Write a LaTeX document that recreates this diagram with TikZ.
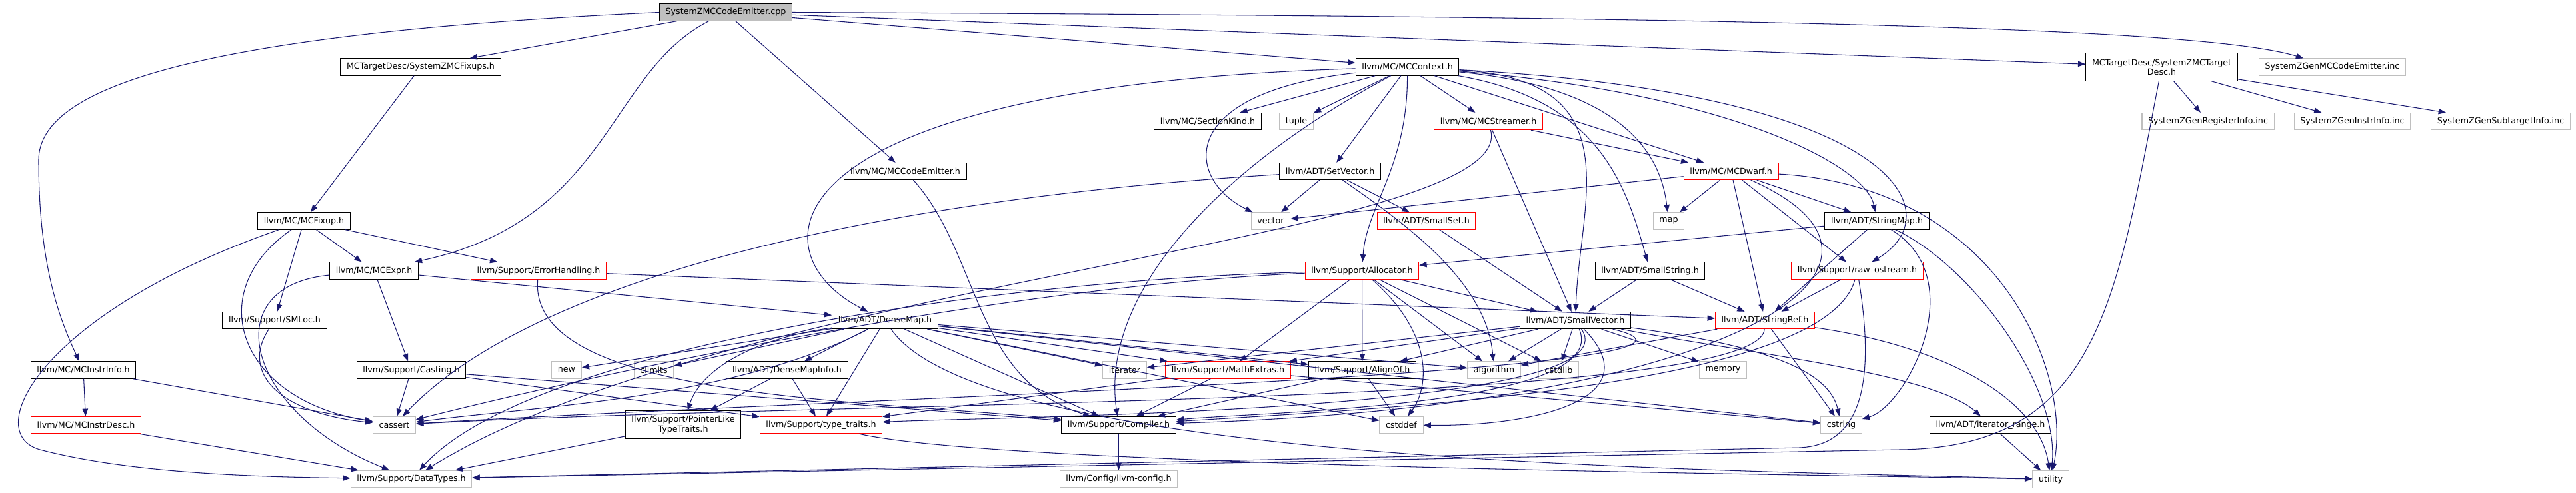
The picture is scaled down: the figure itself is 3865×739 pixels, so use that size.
\documentclass[tikz,border=0pt]{standalone}
\usepackage{fontspec}
\usetikzlibrary{arrows.meta}
\newfontfamily\dejavu{DejaVu Sans}
\definecolor{edgeblue}{HTML}{191970}
\definecolor{sysgray}{HTML}{BFBFBF}
\definecolor{cutred}{HTML}{FF0000}

\begin{document}
\begin{tikzpicture}[x=0.025cm,y=-0.025cm,
    box/.style={rectangle,inner xsep=6.5pt,inner ysep=0pt,minimum height=0.63cm,align=center,font=\dejavu\fontsize{9}{10}\selectfont,line width=0.8pt},
    hdr/.style={box,draw=black},
    cut/.style={box,draw=cutred},
    sys/.style={box,draw=sysgray},
    dep/.style={draw=edgeblue,line width=0.75pt,-{Triangle[length=8pt,width=6pt]}}]
    \useasboundingbox (0,0) rectangle (3865,739);
    % row 0 and 1
    \node[hdr,fill=sysgray] (cpp) at (1089,18.5) {SystemZMCCodeEmitter.cpp};
    \node[hdr] (fixups) at (631,100.5) {MCTargetDesc/SystemZMCFixups.h};
    \node[hdr] (mccontext) at (2111.5,100.5) {llvm/MC/MCContext.h};
    \node[hdr,minimum height=1.03cm] (targetdesc) at (3243.5,100.5) {MCTargetDesc/SystemZMCTarget\\Desc.h};
    \node[sys] (geninc) at (3499.5,100.5) {SystemZGenMCCodeEmitter.inc};
    \node[hdr] (sectionkind) at (1812,182) {llvm/MC/SectionKind.h};
    \node[sys] (tuple) at (1945,182) {tuple};
    \node[cut] (mcstreamer) at (2233,182) {llvm/MC/MCStreamer.h};
    \node[sys] (reginfo) at (3313,182) {SystemZGenRegisterInfo.inc};
    \node[sys] (instrinc) at (3529.5,182) {SystemZGenInstrInfo.inc};
    \node[sys] (subtarget) at (3752,182) {SystemZGenSubtargetInfo.inc};
    % middle rows
    \node[hdr] (codeemitter) at (1358.5,257) {llvm/MC/MCCodeEmitter.h};
    \node[hdr] (setvector) at (1995.5,257) {llvm/ADT/SetVector.h};
    \node[cut] (mcdwarf) at (2597,257) {llvm/MC/MCDwarf.h};
    \node[hdr] (mcfixup) at (456,331.5) {llvm/MC/MCFixup.h};
    \node[sys] (vector) at (1906.5,331.5) {vector};
    \node[cut] (smallset) at (2140,331.5) {llvm/ADT/SmallSet.h};
    \node[sys] (map) at (2503.5,331.5) {map};
    \node[hdr] (stringmap) at (2816,331.5) {llvm/ADT/StringMap.h};
    \node[hdr] (mcexpr) at (561,406.5) {llvm/MC/MCExpr.h};
    \node[cut] (errhandling) at (808,406.5) {llvm/Support/ErrorHandling.h};
    \node[cut] (allocator) at (2043.5,406.5) {llvm/Support/Allocator.h};
    \node[hdr] (smallstring) at (2475.5,406.5) {llvm/ADT/SmallString.h};
    \node[cut] (rawostream) at (2786.5,406.5) {llvm/Support/raw\_ostream.h};
    \node[hdr] (smloc) at (412,481) {llvm/Support/SMLoc.h};
    \node[hdr] (densemap) at (1328,481) {llvm/ADT/DenseMap.h};
    \node[hdr] (smallvector) at (2363.5,481) {llvm/ADT/SmallVector.h};
    \node[cut] (stringref) at (2648,481) {llvm/ADT/StringRef.h};
    \node[hdr] (instrinfo) at (125,555.5) {llvm/MC/MCInstrInfo.h};
    \node[hdr] (casting) at (617,555.5) {llvm/Support/Casting.h};
    \node[sys] (new) at (850,555.5) {new};
    \node[sys] (climits) at (981,555.5) {climits};
    \node[hdr] (densemapinfo) at (1181,555.5) {llvm/ADT/DenseMapInfo.h};
    \node[sys] (iterator) at (1687.5,555.5) {iterator};
    \node[cut] (mathextras) at (1842.5,555.5) {llvm/Support/MathExtras.h};
    \node[hdr] (alignof) at (2044,555.5) {llvm/Support/AlignOf.h};
    \node[sys] (algorithm) at (2241.5,555.5) {algorithm};
    \node[sys] (cstdlib) at (2338.5,555.5) {cstdlib};
    \node[sys] (memory) at (2585,555.5) {memory};
    % bottom rows
    \node[cut] (instrdesc) at (129,638) {llvm/MC/MCInstrDesc.h};
    \node[sys] (cassert) at (591.5,638) {cassert};
    \node[hdr,minimum height=1.03cm] (pointerlike) at (1025,637.5) {llvm/Support/PointerLike\\TypeTraits.h};
    \node[cut] (typetraits) at (1232,638) {llvm/Support/type\_traits.h};
    \node[hdr] (compiler) at (1678.5,638) {llvm/Support/Compiler.h};
    \node[sys] (cstddef) at (2102.5,638) {cstddef};
    \node[sys] (cstring) at (2762.5,638) {cstring};
    \node[hdr] (iterrange) at (2986.5,638) {llvm/ADT/iterator\_range.h};
    \node[sys] (datatypes) at (617,719) {llvm/Support/DataTypes.h};
    \node[sys] (llvmconfig) at (1678.5,719) {llvm/Config/llvm-config.h};
    \node[sys] (utility) at (3077,719.5) {utility};
    % straight includes
    \foreach \a/\b in {cpp/fixups,cpp/codeemitter,cpp/mccontext,cpp/targetdesc,fixups/mcfixup,
        mcfixup/mcexpr,mcfixup/errhandling,mcfixup/smloc,targetdesc/reginfo,targetdesc/instrinc,targetdesc/subtarget,
        mccontext/sectionkind,mccontext/tuple,mccontext/setvector,mccontext/mcstreamer,mccontext/mcdwarf,
        mcstreamer/mcdwarf,mcstreamer/smallvector,mcdwarf/vector,mcdwarf/map,mcdwarf/stringmap,mcdwarf/stringref,mcdwarf/rawostream,
        setvector/vector,setvector/smallset,smallset/smallvector,stringmap/allocator,stringmap/stringref,
        smallstring/smallvector,smallstring/stringref,rawostream/stringref,
        allocator/smallvector,allocator/alignof,allocator/mathextras,allocator/algorithm,allocator/cstdlib,
        smallvector/alignof,smallvector/mathextras,smallvector/algorithm,smallvector/cstdlib,smallvector/memory,smallvector/iterator,
        stringref/algorithm,stringref/cstring,mcexpr/casting,mcexpr/densemap,
        casting/cassert,casting/typetraits,casting/compiler,errhandling/stringref,
        instrinfo/instrdesc,instrinfo/cassert,instrdesc/datatypes,
        densemap/densemapinfo,densemap/alignof,densemap/compiler,densemap/mathextras,densemap/typetraits,
        densemap/algorithm,densemap/climits,densemap/cstddef,densemap/cstring,densemap/iterator,densemap/new,
        densemapinfo/pointerlike,densemapinfo/typetraits,pointerlike/datatypes,
        mathextras/compiler,mathextras/typetraits,mathextras/cstring,alignof/compiler,alignof/cstddef,
        compiler/llvmconfig,iterrange/utility}{\draw[dep] (\a) -- (\b);}
    % routed includes
    \draw[dep] (cpp.west) .. controls (300,50) and (58,130) .. (58,240) .. controls (58,400) and (90,480) .. (instrinfo);
    \draw[dep] (cpp) .. controls (911,110) and (915,330) .. (mcexpr);
    \draw[dep] (cpp.east) .. controls (2600,25) and (3300,40) .. (geninc);
    \draw[dep] (mcfixup) .. controls (60,470) and (-30,650) .. (60,675) .. controls (200,712) and (400,716) .. (datatypes);
    \draw[dep] (mcfixup) .. controls (300,440) and (360,600) .. (cassert);
    \draw[dep] (mcexpr) .. controls (320,430) and (370,620) .. (datatypes);
    \draw[dep] (smloc) .. controls (360,560) and (420,620) .. (cassert);
    \draw[dep] (codeemitter) .. controls (1470,380) and (1460,570) .. (compiler);
    \draw[dep] (mccontext) .. controls (1140,130) and (1130,380) .. (densemap);
    \draw[dep] (mccontext) .. controls (1760,140) and (1780,270) .. (vector);
    \draw[dep] (mccontext) .. controls (1830,250) and (1650,440) .. (compiler);
    \draw[dep] (mccontext) .. controls (2112,250) and (2050,310) .. (allocator);
    \draw[dep] (mccontext) .. controls (2450,120) and (2370,300) .. (smallvector);
    \draw[dep] (mccontext) .. controls (2400,150) and (2440,280) .. (smallstring);
    \draw[dep] (mccontext) .. controls (2420,130) and (2490,220) .. (map);
    \draw[dep] (mccontext) .. controls (2600,140) and (2800,250) .. (stringmap);
    \draw[dep] (mccontext) .. controls (2850,140) and (2930,320) .. (rawostream);
    \draw[dep] (targetdesc) .. controls (3175,450) and (3150,672) .. (2850,675) -- (datatypes);
    \draw[dep] (mcstreamer) .. controls (2280,360) and (1100,420) .. (datatypes);
    \draw[dep] (rawostream) .. controls (2815,580) and (2790,668) .. (2700,672) -- (datatypes);
    \draw[dep] (rawostream) .. controls (2740,580) and (2100,612) .. (compiler);
    \draw[dep] (mcdwarf) .. controls (2920,400) and (2600,610) .. (compiler);
    \draw[dep] (mcdwarf) .. controls (3000,280) and (3110,560) .. (utility);
    \draw[dep] (stringmap) .. controls (2960,400) and (3090,580) .. (utility);
    \draw[dep] (stringref) .. controls (2920,520) and (3060,600) .. (utility);
    \draw[dep] (stringmap) .. controls (2960,420) and (2860,610) .. (cstring);
    \draw[dep] (densemap) .. controls (1480,700) and (2600,705) .. (utility);
    \draw[dep] (typetraits) .. controls (1500,700) and (2700,712) .. (utility);
    \draw[dep] (smallvector) .. controls (2420,610) and (1900,618) .. (compiler);
    \draw[dep] (smallvector) .. controls (2460,620) and (1500,625) .. (typetraits);
    \draw[dep] (smallvector) .. controls (2700,560) and (1200,600) .. (cassert);
    \draw[dep] (smallvector) .. controls (2480,600) and (2300,640) .. (cstddef);
    \draw[dep] (smallvector) .. controls (2660,520) and (2745,560) .. (cstring);
    \draw[dep] (smallvector) .. controls (2620,530) and (2900,560) .. (iterrange);
    \draw[dep] (stringref) .. controls (2640,610) and (1300,600) .. (cassert);
    \draw[dep] (allocator) .. controls (1500,430) and (900,560) .. (cassert);
    \draw[dep] (allocator) .. controls (1500,420) and (800,520) .. (datatypes);
    \draw[dep] (allocator) .. controls (2150,500) and (2145,580) .. (cstddef);
    \draw[dep] (setvector) .. controls (1300,300) and (800,420) .. (cassert);
    \draw[dep] (setvector) .. controls (2100,330) and (2230,420) .. (algorithm);
    \draw[dep] (errhandling) .. controls (790,600) and (1300,600) .. (compiler);
    \draw[dep] (densemap) .. controls (1120,510) and (1050,560) .. (pointerlike);
    \draw[dep] (densemap) .. controls (1100,600) and (800,610) .. (cassert);
\end{tikzpicture}
\end{document}
